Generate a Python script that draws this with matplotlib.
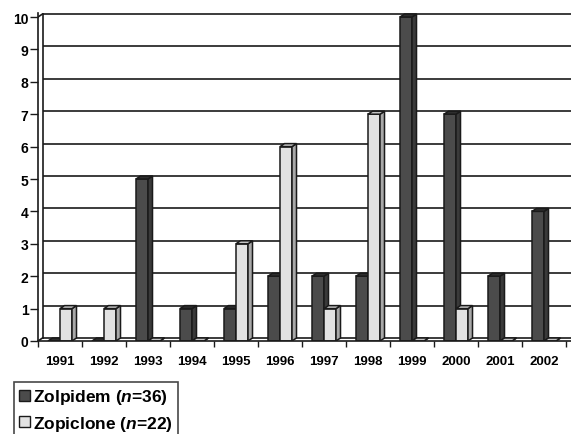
import matplotlib
matplotlib.use("Agg")
import matplotlib.pyplot as plt
from matplotlib.patches import Polygon, Patch

plt.rcParams['font.family'] = ['Liberation Sans', 'DejaVu Sans']
plt.rcParams['font.weight'] = 'bold'
plt.rcParams['mathtext.fontset'] = 'custom'
plt.rcParams['mathtext.it'] = 'Liberation Sans:italic:bold'
plt.rcParams['mathtext.rm'] = 'Liberation Sans:bold'

# Yearly case counts
years = ['1991', '1992', '1993', '1994', '1995', '1996',
         '1997', '1998', '1999', '2000', '2001', '2002']
zolpidem = [0, 0, 5, 1, 1, 2, 2, 2, 10, 7, 2, 4]
zopiclone = [1, 1, 0, 0, 3, 6, 1, 7, 0, 1, 0, 0]
series_labels = ['Zolpidem ($n$=36)', 'Zopiclone ($n$=22)']
y_ticks = list(range(0, 11))

W, H = 571, 435
fig = plt.figure(figsize=(W / 100, H / 100), dpi=100)

# axes placement in pixels
px_left, px_right = 38, 571
px_zero, px_top = 342, 14
unit_x = 44.0        # pixels per year group
unit_y = 32.4        # pixels per count
ax = fig.add_axes([px_left / W, 1 - px_zero / H,
                   (px_right - px_left) / W, (px_zero - px_top) / H])
ax.set_xlim(-0.5, -0.5 + (px_right - px_left) / unit_x)
ax.set_ylim(0, (px_zero - px_top) / unit_y)

# depth of the 3D effect in data units
dx = 4.5 / unit_x
dy = 3.0 / unit_y

edge = '#1a1a1a'
grid_lw = 1.2

# back wall gridlines and floor
x_back = -0.5 + dx
x_end = ax.get_xlim()[1]
for k in y_ticks:
    ax.plot([x_back, x_end], [k + dy, k + dy], color=edge, lw=grid_lw,
            zorder=1, solid_capstyle='butt')
# left wall
ax.plot([x_back, x_back], [dy, 10 + dy], color=edge, lw=grid_lw, zorder=1)
ax.plot([-0.5, x_back], [10, 10 + dy], color=edge, lw=grid_lw, zorder=1)
ax.plot([-0.5, x_back], [0, dy], color=edge, lw=grid_lw, zorder=1)

bar_w = 12 / unit_x
gap = 10 / unit_x
styles = [
    dict(front='#4b4b4b', side='#3a3a3a', top='#2e2e2e'),
    dict(front='#e2e2e2', side='#a8a8a8', top='#c4c4c4'),
]

z = 3
for i in range(len(years)):
    for s, vals in enumerate([zolpidem, zopiclone]):
        h = vals[i]
        x0 = i - 0.5 + gap + s * bar_w
        st = styles[s]
        ax.bar(x0, h, width=bar_w, align='edge', color=st['front'],
               edgecolor=edge, linewidth=1.1, zorder=z)
        side = Polygon([(x0 + bar_w, 0), (x0 + bar_w + dx, dy),
                        (x0 + bar_w + dx, h + dy), (x0 + bar_w, h)],
                       closed=True, facecolor=st['side'], edgecolor=edge,
                       linewidth=1.1, zorder=z)
        top = Polygon([(x0, h), (x0 + dx, h + dy),
                       (x0 + bar_w + dx, h + dy), (x0 + bar_w, h)],
                      closed=True, facecolor=st['top'], edgecolor=edge,
                      linewidth=1.1, zorder=z)
        ax.add_patch(side)
        ax.add_patch(top)
        z += 1

# axes, ticks, labels
for sp in ['top', 'right']:
    ax.spines[sp].set_visible(False)
for sp in ['left', 'bottom']:
    ax.spines[sp].set_color(edge)
    ax.spines[sp].set_linewidth(grid_lw)
    ax.spines[sp].set_zorder(50)

ax.set_yticks(y_ticks)
ax.set_yticklabels([str(v) for v in y_ticks], fontsize=10, fontweight='bold')
ax.tick_params(axis='y', length=8 * 0.72, width=1.0, color=edge, pad=1)

ax.set_xticks(range(len(years)))
ax.set_xticklabels(years, fontsize=9.5, fontweight='bold')
ax.tick_params(axis='x', which='major', length=0, pad=10)
ax.set_xticks([i - 0.5 for i in range(len(years) + 1)], minor=True)
ax.tick_params(axis='x', which='minor', length=6 * 0.72, width=1.0,
               color=edge)

# legend
handles = [Patch(facecolor=styles[0]['front'], edgecolor=edge, linewidth=1.0),
           Patch(facecolor=styles[1]['front'], edgecolor=edge, linewidth=1.0)]
leg = fig.legend(handles, series_labels, loc='upper left',
                 bbox_to_anchor=(14 / W, 1 - 383 / H), borderaxespad=0,
                 fancybox=False, frameon=True, edgecolor=edge,
                 prop=dict(family='Liberation Sans', weight='bold', size=12.5),
                 handlelength=0.6, handleheight=0.6, handletextpad=0.2,
                 labelspacing=0.45, borderpad=0.3)
leg.get_frame().set_linewidth(1.2)

fig.savefig('out.png', dpi=100)
